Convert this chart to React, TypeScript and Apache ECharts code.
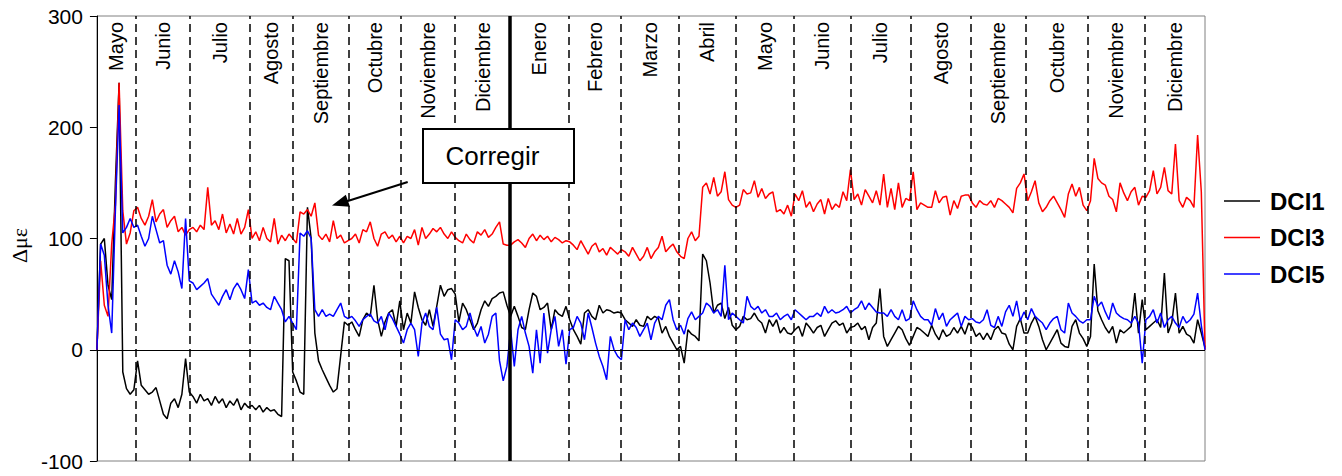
import React, { useEffect, useRef } from "react";
import * as echarts from "echarts";

// Month labels along the top of the plot
const MONTHS = [
  "Mayo", "Junio", "Julio", "Agosto", "Septiembre", "Octubre", "Noviembre", "Diciembre",
  "Enero", "Febrero", "Marzo", "Abril", "Mayo", "Junio", "Julio", "Agosto",
  "Septiembre", "Octubre", "Noviembre", "Diciembre",
];
// Month boundaries (days from start of record)
const MONTH_BOUNDS = [
  0, 20.9, 50.4, 82.7, 105.9, 136.3, 164.5, 194.0, 223.6, 255.4, 283.8,
  315.1, 345.9, 377.1, 408.0, 440.5, 473.3, 502.9, 536.4, 567.6, 600,
];
const YEAR_BREAK = 223.6;
const STEP_DAYS = 2;

const Y_TICKS = [-100, 0, 100, 200, 300];

// DCI1 (black), sampled every 2 days
const DCI1 = [
  0, 95, 100, 58, 45, 150, 240, -20, -35, -40, -36,
  -10, -32, -36, -40, -38, -34, -46, -58, -62, -48, -44, -52, -40, -8, -38,
  -42, -48, -40, -46, -44, -50, -42, -48, -44, -52, -46, -50, -44, -54, -48, -52,
  -50, -54, -50, -56, -52, -55, -54, -58, -60, 82, 80,
  -20, -28, -38, -40, 128, 100, 15, -10, -18, -25, -32, -38, -35, -5, 25, 22,
  25, 18, 12, 27, 33, 30, 58, 27, 12, 25, 33, 36, 21, 44,
  18, 33, 24, 52, 38, 27, 22, 36, 21, 39, 58, 48, 54, 55, 50,
  25, 42, 36, 27, 18, 24, 36, 44, 39, 46, 48, 51, 52, 40,
  30, 39, 30, 20, 18, 36, 51, 48, 36, 38, 42, 18, 36, 32, 30, 39,
  27, 18, 12, 5, 33, 36, 30, 27, 40, 33, 36, 35, 33, 34, 33,
  27, 24, 21, 27, 22, 21, 30, 27, 30, 28, 15, 21, 12, 6, 0,
  3, -12, 18, 14, 12, 8, 86, 80, 60, 33, 40, 42, 28, 38, 22,
  18, 21, 30, 27, 28, 33, 27, 24, 15, 27, 21, 27, 15, 20, 15, 14,
  18, 21, 12, 24, 20, 15, 20, 22, 12, 18, 24, 26, 22, 24, 15, 20,
  21, 24, 18, 21, 9, 20, 24, 55, 12, 3, 9, 15, 21, 18, 10, 4,
  12, 20, 18, 15, 12, 22, 14, 9, 18, 12, 14, 20, 15, 21, 14, 24,
  20, 12, 15, 9, 15, 9, 18, 21, 15, 14, 5, 0, 21, 28, 15,
  15, 24, 30, 21, 9, 0, 6, 12, 18, 6, 3, 2, 21, 27, 15, 10, 3,
  12, 77, 35, 27, 20, 15, 21, 6, 18, 15, 18, 21, 51, 15, 45,
  18, 21, 24, 27, 20, 69, 15, 24, 51, 15, 21, 14, 12, 6, 27, 15, 2,
];

// DCI3 (red)
const DCI3 = [
  0, 80, 40, 30, 95, 130, 240, 125, 95, 105, 125,
  128, 118, 112, 120, 135, 115, 122, 126, 110, 116, 120, 106, 110, 103, 108,
  110, 106, 112, 108, 146, 112, 116, 108, 122, 105, 113, 104, 118, 104, 110, 126,
  100, 106, 98, 110, 100, 97, 118, 95, 103, 98, 104,
  100, 96, 124, 122, 126, 120, 132, 103, 99, 104, 97, 116, 100, 103, 96, 98,
  100, 104, 96, 108, 106, 115, 100, 93, 104, 106, 100, 103, 97, 102,
  96, 102, 100, 108, 94, 110, 100, 104, 109, 106, 110, 104, 100, 106, 101,
  98, 96, 104, 99, 96, 106, 103, 108, 101, 104, 110, 115, 95, 94,
  94, 97, 99, 96, 92, 100, 104, 98, 103, 99, 102, 97, 101, 99, 96, 98,
  97, 94, 90, 98, 92, 86, 93, 96, 88, 91, 85, 92, 89, 86, 90,
  88, 84, 92, 86, 80, 84, 92, 82, 88, 92, 102, 88, 92, 95, 88,
  84, 82, 100, 106, 98, 102, 146, 150, 140, 155, 138, 142, 160, 135, 130,
  128, 130, 144, 140, 141, 152, 137, 145, 136, 140, 142, 124, 126, 122, 130, 120,
  140, 134, 143, 128, 133, 124, 131, 135, 122, 136, 126, 131, 128, 142, 134, 162,
  135, 140, 130, 144, 138, 132, 143, 130, 158, 128, 145, 126, 150, 128, 136, 134,
  160, 126, 132, 130, 128, 128, 143, 132, 137, 138, 121, 134, 127, 138, 139, 139,
  132, 128, 134, 131, 130, 134, 128, 136, 134, 131, 128, 123, 145, 150, 158,
  134, 142, 152, 132, 124, 128, 134, 138, 132, 126, 119, 140, 149, 138, 146, 130, 125,
  134, 172, 154, 150, 148, 138, 135, 124, 150, 141, 134, 142, 146, 130, 138,
  137, 143, 161, 140, 146, 164, 143, 140, 185, 134, 128, 137, 134, 128, 193, 142, 0,
];

// DCI5 (blue)
const DCI5 = [
  0, 95, 85, 40, 15, 125, 220, 105, 110, 118, 110,
  112, 102, 93, 100, 120, 108, 96, 98, 76, 68, 80, 70, 55, 118, 62,
  60, 54, 57, 60, 64, 50, 45, 40, 48, 54, 45, 55, 60, 54, 46, 72,
  42, 44, 40, 42, 38, 36, 48, 42, 36, 25, 30,
  24, 18, 105, 102, 107, 100, 36, 30, 36, 30, 32, 30, 36, 42, 30, 28,
  30, 26, 21, 27, 30, 32, 26, 24, 30, 18, 33, 28, 21, 14,
  6, 18, 24, 18, -6, 24, 33, 21, 18, 38, 14, 9, 10, -9, 27,
  24, 18, 21, 33, 20, 12, 21, 6, 14, 30, 33, -10, -28, -15,
  18, -15, 18, 30, 15, 3, -21, 18, -12, 33, -3, 18, 30, 3, 18, -13,
  18, 20, 30, 24, 9, 33, 20, 6, -6, -15, -27, 12, 0, -6, -9,
  27, 18, 24, 20, 12, 18, 24, 9, 24, 30, 27, 40, 45, 27, 18,
  22, 14, 28, 34, 27, 30, 33, 42, 39, 33, 36, 30, 76, 27, 33,
  30, 27, 24, 48, 39, 36, 39, 33, 36, 30, 30, 33, 27, 30, 32, 27,
  36, 33, 30, 27, 30, 30, 33, 30, 39, 33, 36, 33, 34, 36, 39, 33,
  36, 38, 44, 36, 42, 38, 34, 33, 33, 30, 36, 30, 27, 36, 26, 28,
  44, 36, 30, 27, 27, 22, 37, 27, 33, 21, 27, 30, 33, 21, 30, 27,
  28, 25, 24, 27, 36, 22, 20, 30, 21, 34, 40, 30, 44, 26, 34,
  27, 37, 30, 27, 24, 18, 24, 28, 30, 18, 15, 42, 33, 30, 26, 24, 27,
  27, 48, 39, 43, 34, 27, 42, 33, 30, 28, 27, 24, 30, 24, -12,
  27, 30, 36, 24, 33, 20, 27, 30, 24, 20, 30, 24, 27, 32, 51, 22, 0,
];

const FONT = 'Arial, "Liberation Sans", Helvetica, sans-serif';
const LEGEND_LINE = "path://M0,0H36V1.5H0Z";

export default function App() {
  const ref = useRef<HTMLDivElement>(null);

  useEffect(() => {
    if (!ref.current) return;
    const chart = echarts.init(ref.current, null, { renderer: "svg" });

    const toPairs = (arr: number[]) => arr.map((v, i) => [i * STEP_DAYS, v]);

    const dividers: any[] = MONTH_BOUNDS.slice(1, -1).map((b) =>
      b === YEAR_BREAK
        ? { xAxis: b, lineStyle: { type: "solid", width: 3.5, color: "#000" } }
        : { xAxis: b, lineStyle: { type: [8, 5], width: 1.5, color: "#000" } }
    );
    dividers.push({ yAxis: 0, lineStyle: { type: "solid", width: 1, color: "#000" } });

    const option: any = {
      animation: false,
      backgroundColor: "#fff",
      grid: {
        left: 92,
        top: 16,
        width: 1113,
        height: 445,
        show: true,
        borderColor: "#808080",
        borderWidth: 1,
        backgroundColor: "transparent",
      },
      xAxis: {
        type: "value",
        min: 0,
        max: 600,
        axisLine: { show: false },
        axisTick: { show: false },
        axisLabel: { show: false },
        splitLine: { show: false },
      },
      yAxis: {
        type: "value",
        min: Y_TICKS[0],
        max: Y_TICKS[Y_TICKS.length - 1],
        interval: 100,
        name: "Δμε",
        nameLocation: "middle",
        nameGap: 58,
        nameRotate: 90,
        nameTextStyle: {
          fontSize: 22,
          color: "#000",
          fontFamily: '"Liberation Serif", "DejaVu Serif", serif',
          padding: [0, 14, 0, 0],
        },
        axisLine: { show: true, lineStyle: { color: "#000", width: 1 } },
        axisTick: { show: true, length: 7, lineStyle: { color: "#000", width: 1 } },
        axisLabel: { fontSize: 21, color: "#000", margin: 14, fontFamily: FONT },
        splitLine: { show: false },
      },
      legend: {
        orient: "vertical",
        left: 1219,
        top: 184,
        itemWidth: 36,
        itemHeight: 24,
        itemGap: 12.5,
        data: [
          { name: "DCI1", icon: LEGEND_LINE },
          { name: "DCI3", icon: LEGEND_LINE },
          { name: "DCI5", icon: LEGEND_LINE },
        ],
        textStyle: {
          fontSize: 24,
          fontWeight: "bold",
          color: "#000",
          fontFamily: FONT,
          padding: [0, 0, 0, 5],
        },
      },
      series: [
        {
          name: "DCI1",
          type: "line",
          data: toPairs(DCI1),
          symbol: "none",
          showSymbol: false,
          lineStyle: { color: "#000", width: 1.5 },
          itemStyle: { color: "#000" },
          markLine: {
            silent: true,
            symbol: "none",
            label: { show: false },
            data: dividers,
          },
        },
        {
          name: "DCI3",
          type: "line",
          data: toPairs(DCI3),
          symbol: "none",
          showSymbol: false,
          lineStyle: { color: "#ff0000", width: 1.5 },
          itemStyle: { color: "#ff0000" },
        },
        {
          name: "DCI5",
          type: "line",
          data: toPairs(DCI5),
          symbol: "none",
          showSymbol: false,
          lineStyle: { color: "#0000ff", width: 1.5 },
          itemStyle: { color: "#0000ff" },
        },
      ],
    };

    chart.setOption(option);

    const topY = chart.convertToPixel({ gridIndex: 0 }, [0, Y_TICKS[Y_TICKS.length - 1]])[1];
    const monthTexts = MONTHS.map((m, i) => {
      const mid = (MONTH_BOUNDS[i] + MONTH_BOUNDS[i + 1]) / 2;
      const px = chart.convertToPixel({ gridIndex: 0 }, [mid, 0])[0];
      return {
        type: "text",
        x: px,
        y: topY + 6,
        rotation: Math.PI / 2,
        z: 50,
        style: {
          text: m,
          font: `20px ${FONT}`,
          fill: "#000",
          align: "right",
          verticalAlign: "middle",
          textAlign: "right",
          textVerticalAlign: "middle",
        },
      };
    });

    chart.setOption({
      graphic: [
        ...monthTexts,
        {
          type: "rect",
          z: 100,
          shape: { x: 423, y: 129, width: 151, height: 54 },
          style: { fill: "#fff", stroke: "#000", lineWidth: 2 },
        },
        {
          type: "text",
          z: 101,
          x: 492.5,
          y: 156,
          style: {
            text: "Corregir",
            font: `26px ${FONT}`,
            fill: "#000",
            align: "center",
            verticalAlign: "middle",
            textAlign: "center",
            textVerticalAlign: "middle",
          },
        },
        {
          type: "line",
          z: 100,
          shape: { x1: 407.7, y1: 182, x2: 347, y2: 201.2 },
          style: { stroke: "#000", lineWidth: 2 },
        },
        {
          type: "polygon",
          z: 100,
          shape: { points: [[332, 205.5], [350, 206.8], [345.8, 194.8]] },
          style: { fill: "#000" },
        },
      ],
    });

    return () => chart.dispose();
  }, []);

  return (
    <div
      ref={ref}
      style={{ position: "fixed", left: 0, top: 0, width: 1342, height: 476, background: "#fff" }}
    />
  );
}
